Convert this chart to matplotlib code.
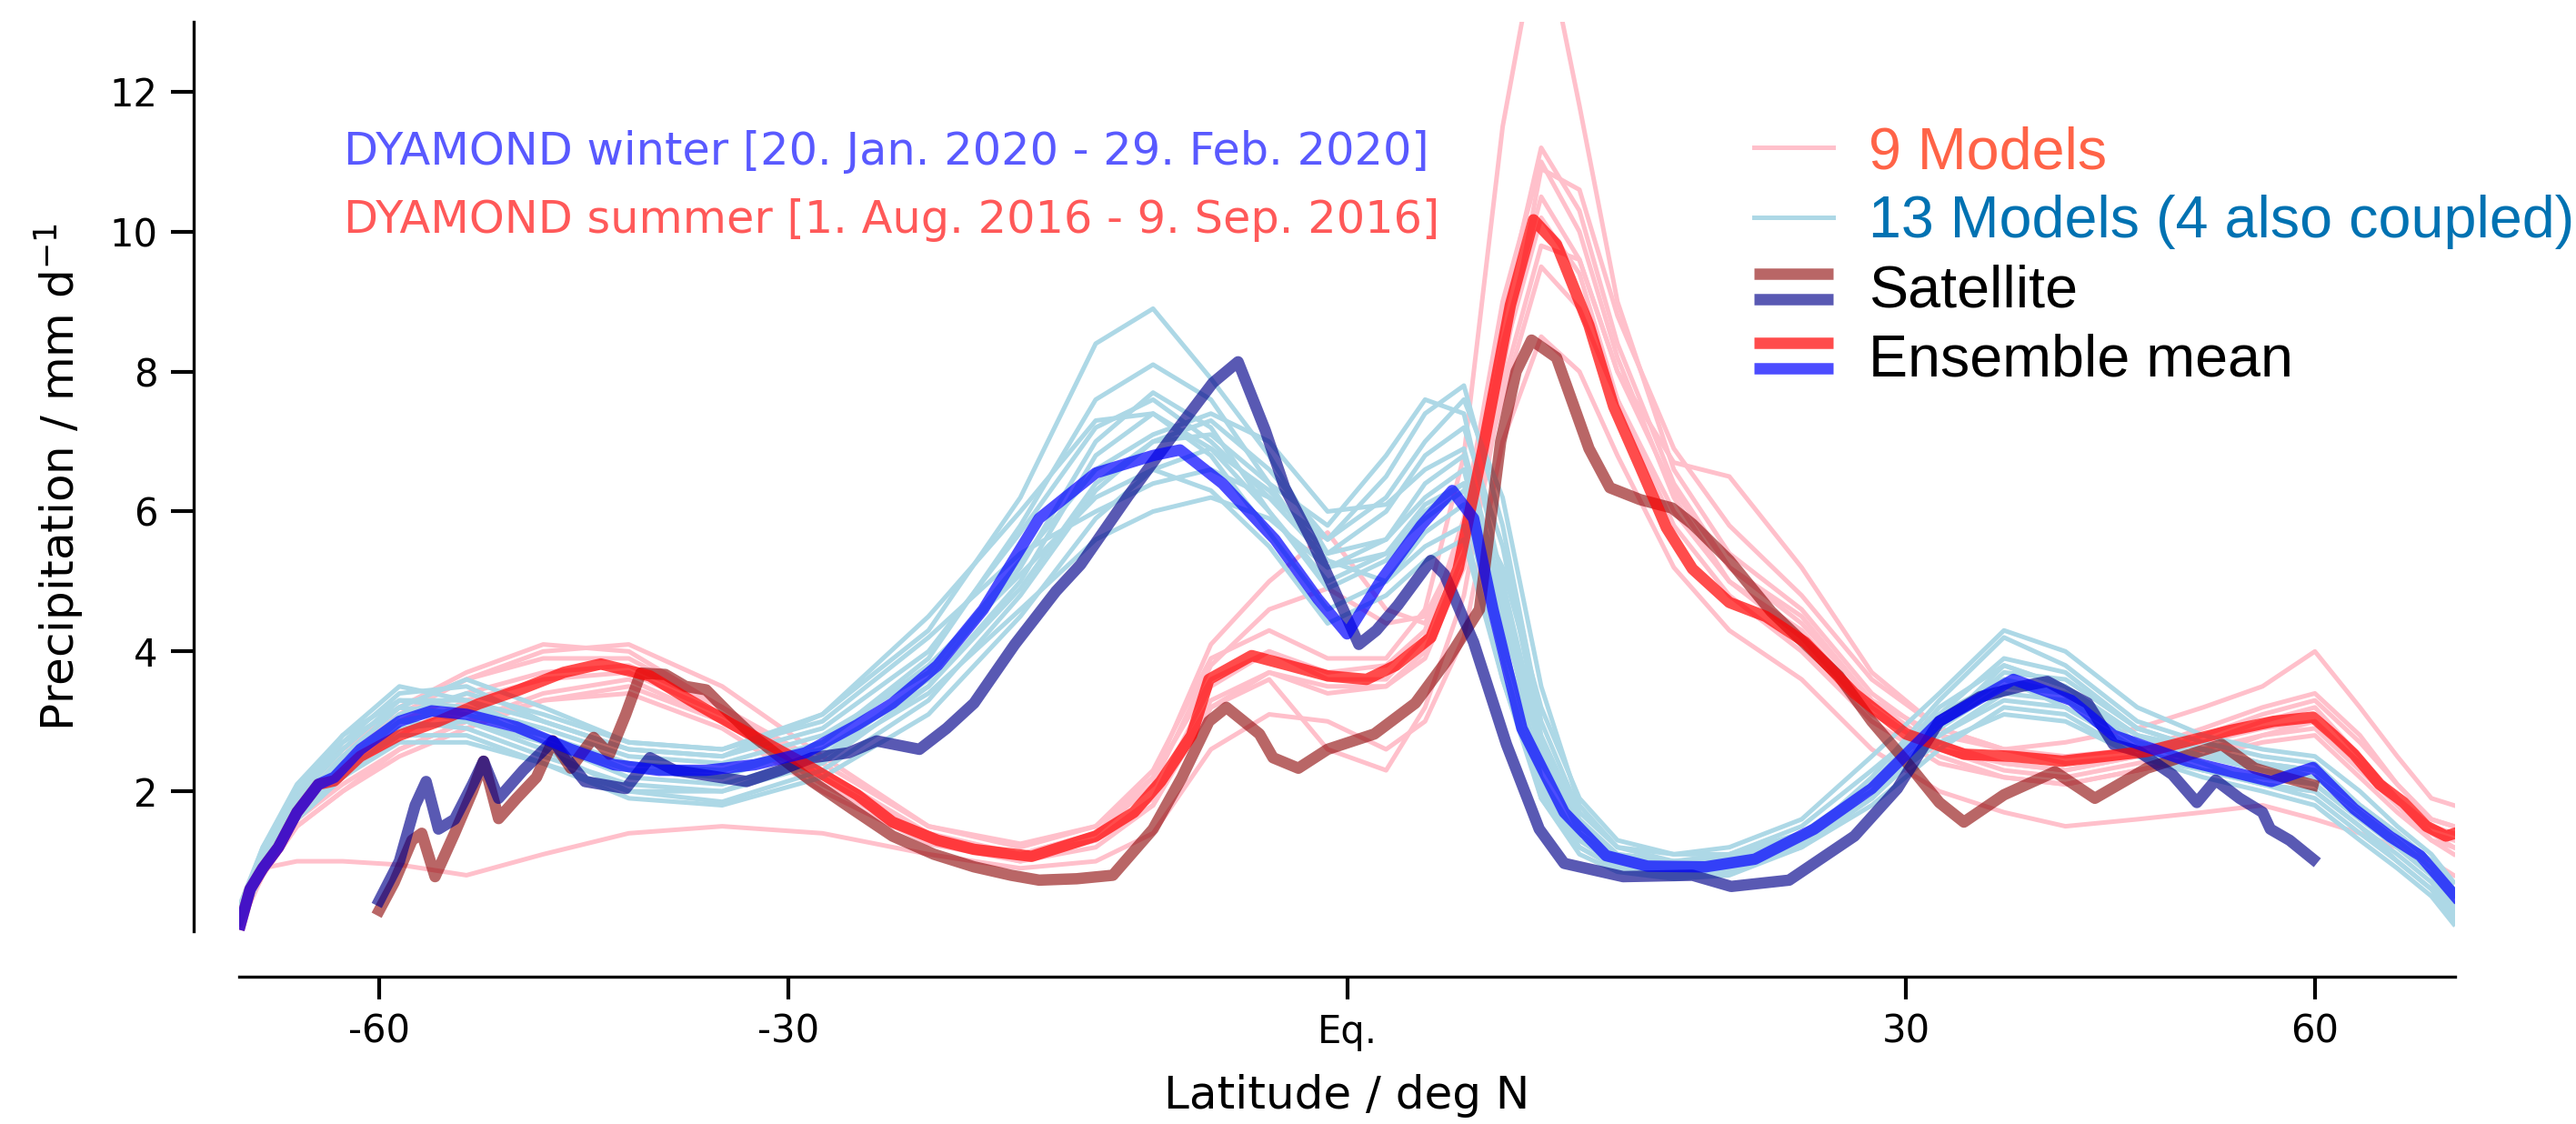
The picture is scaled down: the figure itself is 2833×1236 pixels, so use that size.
import matplotlib.pyplot as plt
import numpy as np
from matplotlib.legend_handler import HandlerBase
from matplotlib.lines import Line2D

# latitude grid of the single model curves
lat_m = [-82, -76, -70, -64, -58, -52, -46, -40, -34, -28, -22, -17, -13, -10, -7, -4, -1, 2, 4, 6,
         8, 10, 12, 14, 17, 20, 24, 28, 32, 36, 40, 45, 50, 55, 60, 65, 70, 76, 82]

# DYAMOND winter, 13 models
winter_models = [
    [0.2, 1.0, 1.9, 2.7, 3.4, 3.5, 3.0, 2.6, 2.5, 3.1, 4.3, 6.2, 8.4, 8.9, 7.9, 6.8, 5.4, 6.0, 6.8, 7.2,
     5.5, 2.8, 1.6, 1.1, 1.0, 1.05, 1.4, 2.0, 2.9, 3.7, 3.6, 2.9, 2.6, 2.3, 2.2, 1.7, 1.2, 0.8, 0.3],
    [0.3, 1.1, 2.0, 2.8, 3.5, 3.3, 2.8, 2.3, 2.2, 2.7, 3.9, 5.8, 7.6, 8.1, 7.6, 6.4, 5.2, 5.6, 6.4, 6.8,
     4.6, 2.2, 1.3, 0.95, 0.85, 0.9, 1.3, 2.2, 3.3, 4.2, 3.8, 3.0, 2.7, 2.5, 2.4, 1.8, 1.4, 1.0, 0.6],
    [0.15, 0.9, 1.6, 2.3, 3.0, 3.2, 2.7, 2.2, 2.1, 2.5, 3.6, 5.2, 7.0, 7.7, 7.2, 6.0, 4.9, 5.3, 6.0, 6.4,
     4.1, 2.4, 1.5, 1.1, 1.0, 1.0, 1.3, 1.9, 2.8, 3.4, 3.3, 2.7, 2.4, 2.1, 2.0, 1.5, 1.1, 0.7, 0.25],
    [0.2, 1.0, 1.8, 2.5, 3.2, 3.0, 2.6, 2.0, 1.85, 2.3, 3.3, 4.8, 6.3, 7.0, 7.3, 6.6, 5.6, 6.2, 7.0, 7.6,
     6.2, 3.5, 1.8, 1.2, 1.0, 1.1, 1.5, 2.3, 3.1, 3.6, 3.2, 2.6, 2.3, 2.2, 2.1, 1.6, 1.2, 0.8, 0.4],
    [0.1, 0.9, 1.7, 2.4, 3.1, 3.4, 3.1, 2.7, 2.6, 3.0, 4.2, 5.4, 6.0, 6.4, 6.6, 6.2, 5.3, 5.0, 5.5, 5.8,
     3.6, 2.0, 1.2, 0.9, 0.8, 0.9, 1.2, 1.8, 2.6, 3.2, 3.1, 2.5, 2.3, 2.1, 2.0, 1.5, 1.0, 0.6, 0.2],
    [0.25, 1.0, 1.8, 2.4, 3.0, 2.9, 2.5, 2.1, 2.0, 2.4, 3.5, 5.0, 6.8, 7.4, 6.8, 5.7, 4.6, 5.0, 5.7, 6.1,
     3.9, 1.9, 1.1, 0.85, 0.75, 0.8, 1.2, 1.9, 2.9, 3.8, 3.5, 2.8, 2.5, 2.3, 2.2, 1.7, 1.3, 0.9, 0.5],
    [0.2, 0.95, 1.7, 2.3, 2.8, 2.8, 2.4, 1.9, 1.8, 2.2, 3.1, 4.5, 5.9, 6.6, 6.9, 6.3, 5.4, 5.6, 6.2, 6.6,
     4.4, 2.6, 1.4, 1.0, 0.9, 0.95, 1.3, 1.9, 2.8, 3.3, 3.2, 2.6, 2.3, 2.1, 1.9, 1.4, 1.0, 0.6, 0.15],
    [0.35, 1.2, 2.1, 2.8, 3.3, 3.3, 3.0, 2.6, 2.5, 2.9, 4.0, 5.7, 7.2, 7.6, 7.0, 6.2, 5.6, 6.5, 7.4, 7.8,
     5.8, 3.0, 1.7, 1.2, 1.1, 1.2, 1.6, 2.5, 3.4, 4.3, 4.0, 3.2, 2.8, 2.6, 2.5, 2.0, 1.5, 1.1, 0.7],
    [0.15, 0.85, 1.6, 2.2, 2.9, 3.0, 2.7, 2.3, 2.3, 2.7, 3.8, 5.1, 6.2, 6.6, 6.3, 5.5, 4.4, 4.8, 5.3, 5.6,
     3.6, 1.9, 1.2, 0.9, 0.8, 0.85, 1.25, 1.9, 2.9, 3.5, 3.4, 2.8, 2.5, 2.3, 2.1, 1.6, 1.2, 0.8, 0.35],
    [0.3, 1.05, 1.9, 2.6, 3.3, 3.2, 2.9, 2.5, 2.4, 2.8, 3.7, 5.3, 6.6, 7.1, 7.4, 7.0, 6.0, 6.1, 6.6, 6.9,
     4.8, 2.5, 1.4, 1.0, 0.9, 1.0, 1.4, 2.1, 3.0, 3.6, 3.4, 2.7, 2.5, 2.4, 2.3, 1.8, 1.4, 1.0, 0.55],
    [0.2, 0.9, 1.6, 2.2, 2.7, 2.7, 2.4, 2.0, 2.0, 2.5, 3.4, 4.6, 5.6, 6.0, 6.2, 5.9, 5.2, 5.4, 5.9, 6.3,
     5.2, 3.2, 1.9, 1.3, 1.1, 1.1, 1.4, 2.0, 2.7, 3.1, 3.0, 2.5, 2.2, 2.0, 1.8, 1.3, 0.9, 0.5, 0.1],
    [0.25, 1.0, 1.8, 2.5, 3.2, 3.6, 3.2, 2.7, 2.6, 3.1, 4.5, 6.0, 7.3, 7.4, 6.9, 6.0, 5.0, 5.4, 6.1, 6.4,
     4.2, 2.1, 1.3, 0.95, 0.85, 0.9, 1.3, 2.0, 3.1, 3.9, 3.7, 2.9, 2.6, 2.4, 2.3, 1.8, 1.4, 1.0, 0.6],
    [0.4, 1.2, 2.0, 2.7, 3.2, 3.1, 2.8, 2.4, 2.3, 2.6, 3.5, 4.9, 6.4, 7.0, 7.1, 6.4, 5.8, 6.8, 7.6, 7.4,
     5.0, 2.7, 1.5, 1.05, 0.95, 1.0, 1.35, 2.1, 3.2, 3.8, 3.5, 2.8, 2.6, 2.4, 2.2, 1.7, 1.3, 0.9, 0.5],
]

# DYAMOND summer, 9 models
summer_models = [
    [0.1, 0.9, 1.8, 2.5, 3.1, 3.6, 4.0, 4.1, 3.5, 2.5, 1.5, 1.2, 1.5, 2.3, 3.9, 4.3, 3.9, 3.9, 4.6, 6.8,
     11.5, 14.5, 11.8, 9.0, 6.6, 5.4, 4.6, 3.4, 2.7, 2.4, 2.3, 2.5, 2.7, 3.0, 3.2, 2.5, 1.9, 1.4, 1.2],
    [0.3, 1.1, 2.0, 2.6, 3.2, 3.6, 3.9, 3.9, 3.2, 2.3, 1.4, 1.1, 1.3, 1.9, 3.5, 4.0, 3.7, 3.8, 4.3, 5.8,
     8.8, 11.2, 10.3, 8.4, 6.4, 5.2, 4.4, 3.3, 2.8, 2.6, 2.5, 2.6, 2.9, 3.2, 3.4, 2.8, 2.1, 1.6, 1.5],
    [0.2, 1.0, 1.7, 2.2, 2.8, 3.3, 3.6, 3.7, 3.1, 2.2, 1.3, 1.0, 1.2, 1.8, 3.2, 3.7, 3.5, 3.5, 3.9, 5.2,
     8.0, 10.9, 10.6, 8.8, 6.9, 5.8, 4.8, 3.6, 2.9, 2.6, 2.4, 2.5, 2.7, 2.9, 3.0, 2.4, 1.8, 1.3, 1.1],
    [0.15, 0.8, 1.5, 2.0, 2.5, 2.9, 3.3, 3.5, 3.0, 2.2, 1.35, 1.1, 1.4, 2.1, 3.8, 4.6, 4.9, 4.4, 4.5, 5.6,
     7.6, 9.5, 8.9, 7.6, 6.0, 5.0, 4.3, 3.2, 2.5, 2.2, 2.1, 2.3, 2.5, 2.8, 3.0, 2.4, 1.9, 1.5, 1.4],
    [0.4, 0.9, 1.0, 1.0, 0.95, 0.8, 1.1, 1.4, 1.5, 1.4, 1.1, 0.9, 1.0, 1.4, 2.6, 3.1, 3.0, 2.6, 3.0, 4.2,
     7.0, 8.5, 8.0, 6.8, 5.2, 4.3, 3.6, 2.6, 2.0, 1.7, 1.5, 1.6, 1.7, 1.8, 1.6, 1.4, 1.2, 1.0, 0.8],
    [0.1, 1.0, 1.9, 2.6, 3.2, 3.7, 4.1, 4.0, 3.2, 2.2, 1.3, 1.1, 1.4, 2.2, 4.1, 5.0, 5.7, 4.6, 4.4, 5.6,
     8.4, 10.5, 9.6, 8.0, 6.7, 6.5, 5.2, 3.7, 2.9, 2.6, 2.7, 2.9, 3.2, 3.5, 4.0, 3.2, 2.5, 1.9, 1.8],
    [0.2, 0.9, 1.6, 2.1, 2.6, 3.0, 3.4, 3.6, 3.0, 2.1, 1.3, 1.05, 1.3, 1.9, 3.3, 3.7, 3.4, 3.5, 4.0, 5.4,
     8.2, 10.2, 9.4, 7.6, 5.8, 4.8, 4.0, 3.0, 2.4, 2.2, 2.1, 2.3, 2.5, 2.7, 2.8, 2.2, 1.7, 1.3, 1.2],
    [0.3, 1.0, 1.8, 2.4, 3.0, 3.4, 3.7, 3.8, 3.2, 2.4, 1.5, 1.25, 1.5, 2.2, 3.6, 4.0, 3.6, 3.6, 4.2, 5.9,
     9.0, 11.0, 10.0, 8.2, 6.2, 5.0, 4.2, 3.1, 2.6, 2.4, 2.3, 2.5, 2.8, 3.1, 3.3, 2.7, 2.1, 1.6, 1.5],
    [0.1, 0.8, 1.5, 2.0, 2.6, 3.0, 3.3, 3.4, 2.9, 2.0, 1.25, 1.0, 1.3, 1.8, 3.2, 3.6, 2.6, 2.3, 3.2, 4.8,
     7.8, 9.8, 9.6, 8.0, 6.3, 5.2, 4.5, 3.3, 2.6, 2.3, 2.2, 2.4, 2.6, 2.8, 2.9, 2.3, 1.8, 1.4, 1.3],
]

# ensemble means
lat_mean_w = [-82, -79, -76, -73, -70, -67, -65, -62, -58, -55, -52, -48, -44, -41, -38, -35, -32, -29, -26,
              -24, -21.5, -19, -16, -13, -10, -8.6, -6.4, -3.7, -1.5, 0, 1.7, 3.8, 5.4, 6.5, 7.5, 9, 11.2,
              13.4, 15.6, 18.7, 21.4, 24.7, 28, 32, 36.6, 40.4, 43.3, 48.8, 55.8, 59.8, 64.3, 69, 73.8, 78,
              82.5]
mean_w = [0.1, 0.6, 0.9, 1.2, 1.7, 2.1, 2.2, 2.6, 3.0, 3.15, 3.1, 2.92, 2.6, 2.38, 2.3, 2.3, 2.38, 2.55, 2.95,
          3.26, 3.8, 4.6, 5.9, 6.55, 6.8, 6.88, 6.4, 5.6, 4.75, 4.25, 5.0, 5.8, 6.3, 5.9, 4.6, 2.9, 1.7,
          1.08, 0.93, 0.92, 1.03, 1.46, 2.04, 3.0, 3.6, 3.3, 2.8, 2.43, 2.14, 2.34, 1.75, 1.35, 1.08, 0.75,
          0.5]

lat_mean_s = [-82, -79, -76, -73, -70, -67, -65, -62, -58, -54.4, -51, -47.8, -44.5, -41.9, -38.6, -36, -33.4,
              -31, -28.6, -26, -24, -21.5, -19.5, -16.4, -13, -11, -9.6, -8, -7.1, -4.9, -3, -1, 1, 2.5, 4.3,
              5.7, 7, 8.4, 9.6, 10.8, 12.5, 13.8, 15.2, 16.6, 18, 20, 22, 24.2, 27, 30, 33.5, 36.5, 39.8,
              45.7, 52.2, 56, 59.8, 62, 64.3, 67.5, 71, 75, 79.5, 82.5]
mean_s = [0.1, 0.6, 0.9, 1.2, 1.7, 2.1, 2.15, 2.5, 2.8, 3.0, 3.25, 3.45, 3.7, 3.82, 3.65, 3.3, 2.96, 2.65,
          2.33, 1.95, 1.56, 1.3, 1.17, 1.07, 1.36, 1.7, 2.14, 2.8, 3.6, 3.94, 3.8, 3.65, 3.6, 3.8, 4.2, 5.18,
          6.92, 8.95, 10.17, 9.82, 8.66, 7.5, 6.64, 5.77, 5.18, 4.7, 4.5, 4.13, 3.4, 2.82, 2.53, 2.5, 2.43,
          2.57, 2.87, 3.0, 3.06, 2.8, 2.53, 2.1, 1.84, 1.5, 1.36, 1.4]

# satellite
lat_sat_s = [-60, -58.5, -56.8, -55.9, -54.7, -53, -51.5, -50.6, -49.4, -48, -46.5, -45.3, -44, -42.4, -41.3,
             -40.2, -39.2, -37.6, -36.3, -35, -33.5, -32, -30, -28.6, -26.3, -24, -21.7, -19.5, -17.5, -16,
             -14, -12.1, -10, -8.5, -7.1, -6.2, -4.5, -3.8, -2.5, -1, 1.4, 3.5, 5.2, 6.8, 7.9, 8.7, 9.5,
             10.8, 12.5, 13.6, 15.2, 16.9, 18, 20, 22.3, 26.1, 28, 30, 32, 33.5, 36, 39.3, 42, 45.7, 48.5,
             51.5, 54.3, 57, 59.8]
sat_s = [0.3, 0.7, 1.3, 1.4, 0.78, 1.4, 2.0, 2.43, 1.61, 1.9, 2.2, 2.72, 2.33, 2.77, 2.53, 3.1, 3.69, 3.67,
         3.5, 3.45, 3.1, 2.77, 2.4, 2.14, 1.75, 1.36, 1.1, 0.92, 0.8, 0.73, 0.75, 0.8, 1.46, 2.2, 3.0, 3.2,
         2.82, 2.48, 2.33, 2.6, 2.82, 3.26, 3.9, 4.6, 7.0, 8.0, 8.45, 8.2, 6.9, 6.34, 6.17, 6.05, 5.82, 5.3,
         4.57, 3.65, 3.0, 2.43, 1.84, 1.56, 1.95, 2.28, 1.9, 2.33, 2.5, 2.67, 2.33, 2.2, 2.09]

lat_sat_w = [-60, -58, -56.5, -55.5, -54.4, -53, -51.5, -50.6, -49.4, -47.5, -45.3, -43, -40.2, -38.6, -37,
             -35, -32.5, -30.5, -28.6, -26.5, -24.9, -22.5, -21, -19.5, -17.3, -15.1, -13.8, -11.3, -9.1,
             -6.9, -5.6, -4.2, -3.2, -1.8, -0.2, 0.6, 1.5, 2.6, 4.3, 5.0, 6.5, 8.2, 9.9, 11.2, 14.3, 18, 20.1,
             23.3, 27, 29.5, 32, 34.5, 37.1, 38.8, 41.5, 43.3, 45.1, 47.6, 49.5, 51, 53, 55, 55.7, 57.5, 59.8]
sat_w = [0.44, 1.0, 1.8, 2.14, 1.46, 1.6, 2.1, 2.43, 1.9, 2.3, 2.72, 2.14, 2.04, 2.48, 2.3, 2.23, 2.14, 2.3,
         2.48, 2.55, 2.72, 2.6, 2.9, 3.26, 4.1, 4.86, 5.24, 6.22, 7.04, 7.84, 8.14, 7.16, 6.34, 5.58, 4.6,
         4.1, 4.3, 4.66, 5.3, 5.1, 4.13, 2.67, 1.46, 0.97, 0.78, 0.8, 0.64, 0.73, 1.36, 2.04, 3.0, 3.35, 3.5,
         3.57, 3.26, 2.67, 2.57, 2.24, 1.84, 2.16, 1.9, 1.7, 1.46, 1.3, 1.03]

xticks = [-60, -30, 0, 30, 60]
xticklabels = ['-60', '-30', 'Eq.', '30', '60']
yticks = [2, 4, 6, 8, 10, 12]


class StackedHandler(HandlerBase):
    # two lines on top of each other in one legend entry
    def create_artists(self, legend, orig_handle, xdescent, ydescent, width, height, fontsize, trans):
        mid = (height - ydescent) / 2
        artists = []
        for i, h in enumerate(orig_handle):
            y = mid + (0.31 - 0.62 * i) * height
            line = Line2D([-xdescent, width - xdescent], [y, y], color=h.get_color(), alpha=h.get_alpha(),
                          lw=h.get_linewidth(), solid_capstyle='butt')
            line.set_transform(trans)
            artists.append(line)
        return artists


def fwd(x):
    return np.sin(np.deg2rad(x))


def inv(y):
    return np.rad2deg(np.arcsin(np.clip(y, -1, 1)))


if __name__ == '__main__':
    fig = plt.figure(figsize=(2833 / 300, 1236 / 300), dpi=300)
    ax = fig.add_axes([263 / 2833, 1 - 1024 / 1236, (2700 - 263) / 2833, 1000 / 1236])
    ax.set_xscale('function', functions=(fwd, inv))

    for v in summer_models:
        l_s, = ax.plot(lat_m, v, color='pink', lw=1.2)
    for v in winter_models:
        l_w, = ax.plot(lat_m, v, color='lightblue', lw=1.2)

    s_s, = ax.plot(lat_sat_s, sat_s, color='darkred', alpha=0.6, lw=3)
    s_w, = ax.plot(lat_sat_w, sat_w, color='darkblue', alpha=0.65, lw=3)
    m_s, = ax.plot(lat_mean_s, mean_s, color='red', alpha=0.7, lw=3)
    m_w, = ax.plot(lat_mean_w, mean_w, color='blue', alpha=0.7, lw=3)

    ax.set_xlim(-82.5, 82.5)
    ax.set_ylim(0, 13)
    ax.set_xticks(xticks)
    ax.set_xticklabels(xticklabels)
    ax.set_yticks(yticks)
    ax.tick_params(labelsize=10, length=6, width=1)
    ax.spines['top'].set_visible(False)
    ax.spines['right'].set_visible(False)
    ax.spines['left'].set_position(('outward', 12))
    ax.spines['bottom'].set_position(('outward', 12))
    ax.set_xlabel('Latitude / deg N', fontsize=12, labelpad=6)
    ax.set_ylabel('Precipitation / mm d$^{-1}$', fontsize=12, labelpad=6)

    ax.text(0.047, 0.843, 'DYAMOND winter [20. Jan. 2020 - 29. Feb. 2020]', transform=ax.transAxes,
            color='blue', alpha=0.65, fontsize=11.85, va='baseline')
    ax.text(0.047, 0.768, 'DYAMOND summer [1. Aug. 2016 - 9. Sep. 2016]', transform=ax.transAxes,
            color='red', alpha=0.65, fontsize=11.85, va='baseline')

    leg = ax.legend([l_s, l_w, (s_s, s_w), (m_s, m_w)],
                    ['9 Models', '13 Models (4 also coupled)', 'Satellite', 'Ensemble mean'],
                    handler_map={tuple: StackedHandler()}, loc='upper left',
                    bbox_to_anchor=(1929 / 2833, 1 - 138 / 1236), bbox_transform=fig.transFigure,
                    frameon=False, borderpad=0, borderaxespad=0, handlelength=1.35, handletextpad=0.6,
                    labelspacing=0.25, prop={'family': 'Liberation Sans', 'size': 15.5})
    for t, c in zip(leg.get_texts(), ['tomato', '#0072B2', 'black', 'black']):
        t.set_color(c)

    fig.savefig('out.png', dpi=300)
